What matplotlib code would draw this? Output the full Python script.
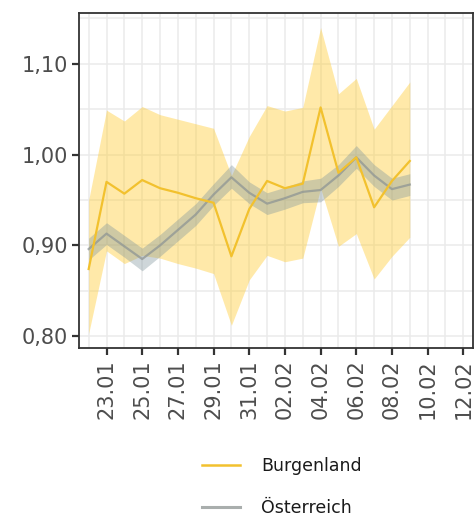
import matplotlib
matplotlib.use("Agg")
import matplotlib.pyplot as plt
from matplotlib.lines import Line2D
from matplotlib.ticker import MultipleLocator
import pandas as pd

dates = pd.date_range("2021-01-22", "2021-02-09", freq="D")

burgenland = [0.874, 0.970, 0.957, 0.972, 0.963, 0.958, 0.952, 0.947, 0.888, 0.940,
              0.971, 0.963, 0.968, 1.052, 0.980, 0.997, 0.942, 0.971, 0.993]
burgenland_hi = [0.950, 1.049, 1.037, 1.053, 1.044, 1.039, 1.034, 1.029, 0.977, 1.020,
                 1.054, 1.048, 1.052, 1.140, 1.067, 1.084, 1.028, 1.054, 1.080]
burgenland_lo = [0.803, 0.894, 0.880, 0.889, 0.886, 0.880, 0.875, 0.869, 0.812, 0.862,
                 0.889, 0.882, 0.886, 0.963, 0.899, 0.913, 0.863, 0.888, 0.909]

oesterreich = [0.896, 0.913, 0.899, 0.885, 0.900, 0.917, 0.934, 0.956, 0.975, 0.958,
               0.946, 0.952, 0.959, 0.961, 0.977, 0.997, 0.977, 0.962, 0.967]
oesterreich_hi = [0.908, 0.925, 0.911, 0.897, 0.912, 0.929, 0.946, 0.968, 0.989, 0.970,
                  0.958, 0.964, 0.971, 0.974, 0.989, 1.010, 0.989, 0.974, 0.979]
oesterreich_lo = [0.884, 0.901, 0.887, 0.872, 0.888, 0.905, 0.922, 0.944, 0.963, 0.946,
                  0.934, 0.940, 0.947, 0.948, 0.965, 0.985, 0.965, 0.950, 0.955]

series_labels = ["Burgenland", "Österreich"]
y_ticks = [0.80, 0.90, 1.00, 1.10]

YELLOW = "#F2C12E"
YELLOW_FILL = "#FFCC33"
GREY_LINE = "#A9AEAD"
GREY_FILL = "#7F959C"
TEXT = "#4D4D4D"

plt.rcParams["font.family"] = ["DejaVu Sans"]

fig = plt.figure(figsize=(4.74, 5.18), dpi=100)
ax = fig.add_axes([79.3 / 474, 1 - 348 / 518, (472.7 - 79.3) / 474, (348 - 13) / 518])

ax.fill_between(dates, burgenland_lo, burgenland_hi, color=YELLOW_FILL, alpha=0.42,
                linewidth=0, zorder=2)
ax.fill_between(dates, oesterreich_lo, oesterreich_hi, color=GREY_FILL, alpha=0.38,
                linewidth=0, zorder=3)
ax.plot(dates, oesterreich, color="#8E9594", alpha=0.75, linewidth=1.6, zorder=4)
ax.plot(dates, burgenland, color=YELLOW, linewidth=1.6, zorder=5)

x0 = pd.Timestamp("2021-01-22")
x1 = pd.Timestamp("2021-02-12")
pad = (x1 - x0) * 0.025
ax.set_xlim(x0 - pad, x1 + pad)
ax.set_ylim(0.787, 1.156)

ticks = pd.date_range("2021-01-23", "2021-02-12", freq="2D")
ax.set_xticks(ticks)
ax.set_xticklabels([d.strftime("%d.%m") for d in ticks], rotation=90, fontsize=15,
                   color=TEXT)
ax.set_xticks(pd.date_range("2021-01-22", "2021-02-12", freq="2D"), minor=True)
ax.set_yticks(y_ticks)
ax.set_yticklabels([f"{v:.2f}".replace(".", ",") for v in y_ticks], fontsize=15,
                   color=TEXT)
ax.yaxis.set_minor_locator(MultipleLocator(0.05))

ax.grid(which="major", color="#EBEBEB", linewidth=1.1, zorder=0)
ax.grid(which="minor", color="#EBEBEB", linewidth=1.1, zorder=0)
ax.set_axisbelow(True)
ax.tick_params(which="major", length=5, width=1.6, color="#333333", pad=3)
ax.tick_params(which="minor", length=0)
for s in ax.spines.values():
    s.set_color("#333333")
    s.set_linewidth(1.3)

handles = [Line2D([], [], color=YELLOW, linewidth=1.8),
           Line2D([], [], color=GREY_LINE, linewidth=2.2)]
fig.legend(handles, series_labels, loc="center", bbox_to_anchor=(282 / 474, 1 - 487 / 518),
           frameon=False, fontsize=12.5, handlelength=2.2, labelspacing=1.35,
           handletextpad=1.2, labelcolor="#1A1A1A")

fig.savefig("out.png", dpi=100)
